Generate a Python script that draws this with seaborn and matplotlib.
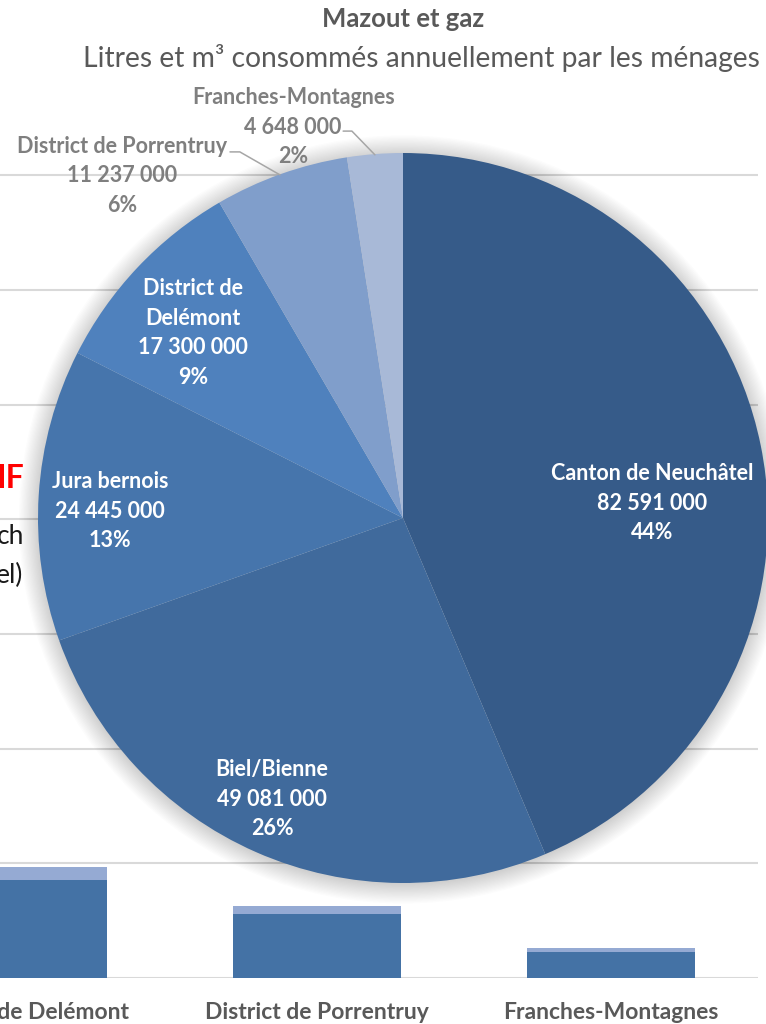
import matplotlib
matplotlib.use("Agg")
import matplotlib.pyplot as plt
import seaborn as sns
import numpy as np
from matplotlib.patches import Circle

sns.set_theme(style="white")
plt.rcParams["font.family"] = ["Lato", "DejaVu Sans"]

# ---------------- data ----------------
# pie: yearly consumption (litres and m3) by households
regions = ["Canton de Neuchâtel", "Biel/Bienne", "Jura bernois",
           "District de\nDelémont", "District de Porrentruy", "Franches-Montagnes"]
consumption = [82591000, 49081000, 24445000, 17300000, 11237000, 4648000]
pie_colors = ["#365B89", "#406A9C", "#4675AC", "#4F81BD", "#809ECB", "#A8B9D7"]

# background bar chart (partially hidden behind the pie)
bar_categories = ["District de Delémont", "District de Porrentruy", "Franches-Montagnes"]
bar_lower = [8.54, 5.58, 2.27]
bar_upper = [1.14, 0.70, 0.35]
bar_ticks = [0, 10, 20, 30, 40, 50, 60, 70]

# ---------------- figure ----------------
W, H = 766, 1024
fig = plt.figure(figsize=(W / 100, H / 100), dpi=100)
fig.patch.set_facecolor("white")

def fx(px):
    return px / W

def fy(py):
    return 1 - py / H

# background bar axes
unit_px = 114.7
base_py = 978
ax = fig.add_axes([0, fy(base_py), fx(758), 7.3 * unit_px / H])
totals = [a + b for a, b in zip(bar_lower, bar_upper)]
sns.barplot(x=bar_categories, y=totals, color="#95AAD3", saturation=1,
            width=0.57, ax=ax, edgecolor="none", linewidth=0)
sns.barplot(x=bar_categories, y=bar_lower, color="#4472A5", saturation=1,
            width=0.57, ax=ax, edgecolor="none", linewidth=0)
ax.set_xlim(-23 / 294, (758 - 23) / 294)
ax.set_ylim(0, 73)
ax.set_yticks(bar_ticks)
ax.yaxis.grid(True, color="#D9D9D9", linewidth=1.5)
ax.set_axisbelow(True)
ax.tick_params(axis="y", left=False, labelleft=False)
ax.tick_params(axis="x", bottom=False, pad=11, labelsize=16.5, labelcolor="#595959")
for lab in ax.get_xticklabels():
    lab.set_fontweight("bold")
for s in ax.spines.values():
    s.set_visible(False)
ax.set_xlabel("")
ax.set_ylabel("")
ax.patch.set_alpha(0)

# partial texts from the cropped chart on the left
fig.text(fx(24), fy(479), "IF", color="#FF0000", fontsize=23, fontweight="bold",
         ha="right", va="center")
fig.text(fx(24), fy(536), "ch", color="#1A1A1A", fontsize=19, ha="right", va="center")
fig.text(fx(23), fy(575), "el)", color="#1A1A1A", fontsize=19, ha="right", va="center")

# pie axes
cx, cy, R = 403, 518, 365
axp = fig.add_axes([fx(cx - R), fy(cy + R), 2 * R / W, 2 * R / H])
axp.patch.set_alpha(0)
for i in range(16):
    axp.add_patch(Circle((0, -0.004), 1.0 + 0.0035 * i, color="black",
                         alpha=0.012, lw=0, zorder=0, clip_on=False))
wedges, _ = axp.pie(consumption, colors=pie_colors, startangle=90, counterclock=False,
                    radius=1, wedgeprops=dict(linewidth=0))
for w in wedges:
    w.set_zorder(2)
axp.set_xlim(-1, 1)
axp.set_ylim(-1, 1)
axp.set_aspect("equal")
axp.axis("off")

total = sum(consumption)
def fmt(v):
    return f"{v:,}".replace(",", " ")

label_pos = [(0.682, 0.041), (-0.359, -0.770), (-0.803, 0.019), (-0.575, 0.507),
             (-0.770, 0.937), (-0.301, 1.071)]
inside = [True, True, True, True, False, False]
for name, v, (lx, ly), ins in zip(regions, consumption, label_pos, inside):
    txt = f"{name}\n{fmt(v)}\n{round(v / total * 100):.0f}%"
    axp.text(lx, ly, txt, ha="center", va="center", fontsize=15.5, fontweight="bold",
             color="white" if ins else "#7F7F7F", linespacing=1.5, zorder=5)

# leader lines for outside labels
leaders = [[(-0.474, 1.003), (-0.447, 1.003), (-0.337, 0.940)],
           [(-0.164, 1.060), (-0.140, 1.060), (-0.077, 0.995)]]
for pts in leaders:
    xs, ys = zip(*pts)
    axp.plot(xs, ys, color="#A6A6A6", lw=1.1, zorder=4, clip_on=False)

# titles
fig.text(fx(403), fy(19), "Mazout et gaz", ha="center", va="center", fontsize=18.5,
         fontweight="bold", color="#595959")
fig.text(fx(421), fy(58), "Litres et m³ consommés annuellement par les ménages",
         ha="center", va="center", fontsize=20.3, color="#595959")

fig.savefig("out.png", dpi=100, facecolor="white")
